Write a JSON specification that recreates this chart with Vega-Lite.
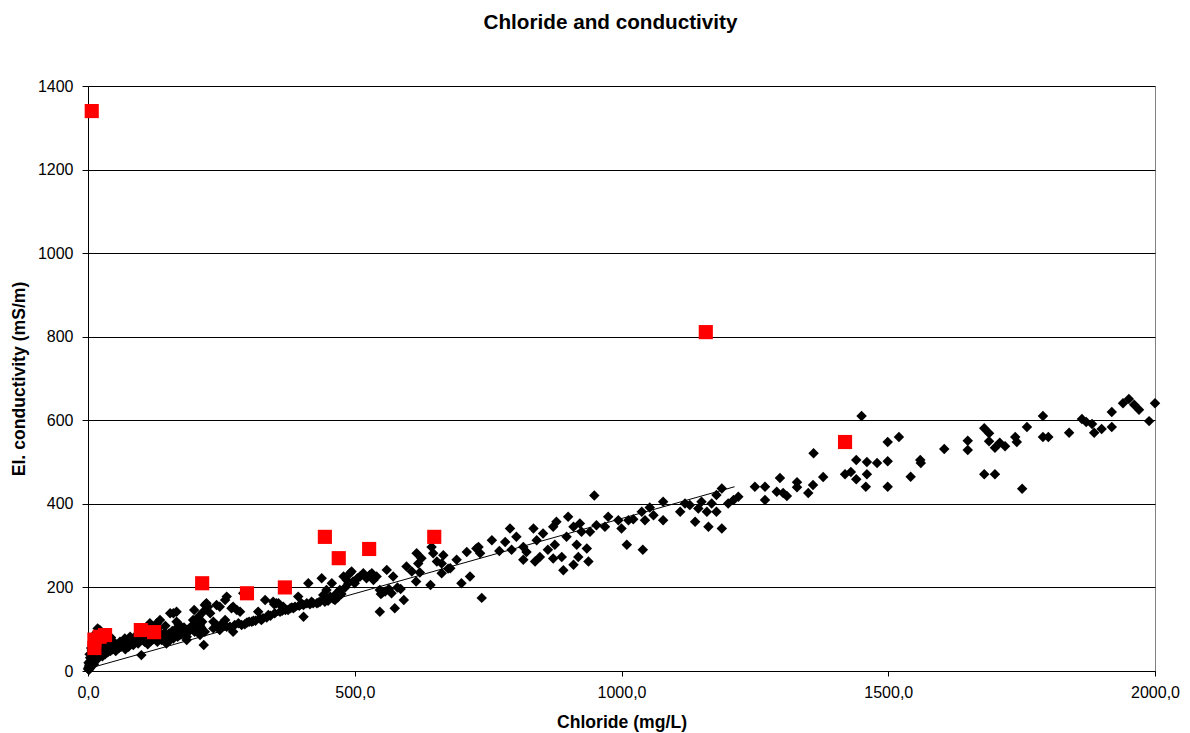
{
  "$schema": "https://vega.github.io/schema/vega-lite/v6.json",
  "width": 1067,
  "height": 585,
  "autosize": {"type": "none"},
  "padding": {"left": 88, "top": 86, "right": 35, "bottom": 62},
  "background": "white",
  "title": {
    "text": "Chloride and conductivity",
    "font": "Liberation Sans",
    "fontSize": 20.7,
    "fontWeight": "bold",
    "color": "black",
    "anchor": "middle",
    "frame": "group",
    "offset": 44,
    "dx": -11
  },
  "config": {
    "view": {"stroke": "#808080", "strokeWidth": 1},
    "axis": {
      "labelFont": "Liberation Sans",
      "labelFontSize": 16,
      "labelColor": "black",
      "labelFlush": false,
      "titleFont": "Liberation Sans",
      "titleFontSize": 17.6,
      "titleFontWeight": "bold",
      "titleColor": "black",
      "domainColor": "black",
      "tickColor": "black"
    }
  },
  "datasets": {
    "measured": [
      {"cl": 0, "ec": 5}, {"cl": 1, "ec": 8}, {"cl": 2, "ec": 3}, {"cl": 2, "ec": 12}, {"cl": 3, "ec": 15},
      {"cl": 3, "ec": 6}, {"cl": 4, "ec": 20}, {"cl": 5, "ec": 10}, {"cl": 5, "ec": 25}, {"cl": 6, "ec": 18},
      {"cl": 6, "ec": 30}, {"cl": 7, "ec": 14}, {"cl": 8, "ec": 35}, {"cl": 8, "ec": 22}, {"cl": 9, "ec": 40},
      {"cl": 10, "ec": 28}, {"cl": 10, "ec": 45}, {"cl": 11, "ec": 16}, {"cl": 12, "ec": 50}, {"cl": 12, "ec": 33},
      {"cl": 13, "ec": 60}, {"cl": 14, "ec": 38}, {"cl": 15, "ec": 25}, {"cl": 15, "ec": 70}, {"cl": 16, "ec": 44},
      {"cl": 17, "ec": 55}, {"cl": 18, "ec": 30}, {"cl": 18, "ec": 80}, {"cl": 18, "ec": 102}, {"cl": 19, "ec": 48},
      {"cl": 20, "ec": 65}, {"cl": 20, "ec": 95}, {"cl": 21, "ec": 38}, {"cl": 22, "ec": 52}, {"cl": 22, "ec": 98},
      {"cl": 24, "ec": 42}, {"cl": 24, "ec": 72}, {"cl": 25, "ec": 58}, {"cl": 26, "ec": 88}, {"cl": 27, "ec": 35},
      {"cl": 28, "ec": 64}, {"cl": 29, "ec": 48}, {"cl": 30, "ec": 78}, {"cl": 31, "ec": 55}, {"cl": 32, "ec": 40},
      {"cl": 33, "ec": 68}, {"cl": 34, "ec": 90}, {"cl": 35, "ec": 50}, {"cl": 36, "ec": 62}, {"cl": 37, "ec": 45},
      {"cl": 38, "ec": 74}, {"cl": 40, "ec": 55}, {"cl": 41, "ec": 66}, {"cl": 42, "ec": 48}, {"cl": 43, "ec": 80},
      {"cl": 45, "ec": 60}, {"cl": 46, "ec": 52}, {"cl": 48, "ec": 70}, {"cl": 50, "ec": 58},
      {"cl": 4, "ec": 32}, {"cl": 7, "ec": 50}, {"cl": 9, "ec": 62}, {"cl": 11, "ec": 72}, {"cl": 14, "ec": 84},
      {"cl": 16, "ec": 92}, {"cl": 23, "ec": 85}, {"cl": 27, "ec": 75}, {"cl": 30, "ec": 62}, {"cl": 35, "ec": 70},
      {"cl": 39, "ec": 60}, {"cl": 44, "ec": 68}, {"cl": 1, "ec": 20}, {"cl": 3, "ec": 40}, {"cl": 6, "ec": 55},
      {"cl": 52, "ec": 48}, {"cl": 55, "ec": 62}, {"cl": 58, "ec": 55}, {"cl": 60, "ec": 70}, {"cl": 62, "ec": 58},
      {"cl": 65, "ec": 66}, {"cl": 68, "ec": 60}, {"cl": 69, "ec": 78}, {"cl": 70, "ec": 52}, {"cl": 72, "ec": 68},
      {"cl": 75, "ec": 72}, {"cl": 76, "ec": 58}, {"cl": 79, "ec": 82}, {"cl": 80, "ec": 64}, {"cl": 82, "ec": 75},
      {"cl": 85, "ec": 62}, {"cl": 87, "ec": 78}, {"cl": 90, "ec": 70}, {"cl": 91, "ec": 86}, {"cl": 94, "ec": 66},
      {"cl": 96, "ec": 80}, {"cl": 100, "ec": 38}, {"cl": 100, "ec": 74}, {"cl": 103, "ec": 84}, {"cl": 106, "ec": 70},
      {"cl": 108, "ec": 78}, {"cl": 110, "ec": 88}, {"cl": 112, "ec": 64}, {"cl": 114, "ec": 80}, {"cl": 116, "ec": 114},
      {"cl": 118, "ec": 72}, {"cl": 120, "ec": 86}, {"cl": 122, "ec": 76}, {"cl": 125, "ec": 82}, {"cl": 127, "ec": 92},
      {"cl": 129, "ec": 114}, {"cl": 130, "ec": 70}, {"cl": 132, "ec": 80}, {"cl": 135, "ec": 122}, {"cl": 136, "ec": 88},
      {"cl": 138, "ec": 74}, {"cl": 140, "ec": 84}, {"cl": 142, "ec": 78}, {"cl": 144, "ec": 92}, {"cl": 147, "ec": 66},
      {"cl": 148, "ec": 86}, {"cl": 150, "ec": 80}, {"cl": 152, "ec": 90}, {"cl": 154, "ec": 74}, {"cl": 154, "ec": 138},
      {"cl": 156, "ec": 84}, {"cl": 158, "ec": 96}, {"cl": 160, "ec": 138}, {"cl": 160, "ec": 78}, {"cl": 162, "ec": 88},
      {"cl": 164, "ec": 100}, {"cl": 166, "ec": 142}, {"cl": 166, "ec": 118}, {"cl": 168, "ec": 82}, {"cl": 170, "ec": 92},
      {"cl": 172, "ec": 86}, {"cl": 174, "ec": 98}, {"cl": 176, "ec": 88}, {"cl": 178, "ec": 94}, {"cl": 179, "ec": 90},
      {"cl": 180, "ec": 104}, {"cl": 182, "ec": 92}, {"cl": 185, "ec": 82}, {"cl": 185, "ec": 74}, {"cl": 186, "ec": 98},
      {"cl": 188, "ec": 94}, {"cl": 190, "ec": 102}, {"cl": 191, "ec": 98}, {"cl": 193, "ec": 106}, {"cl": 195, "ec": 100},
      {"cl": 197, "ec": 122}, {"cl": 199, "ec": 146}, {"cl": 200, "ec": 94}, {"cl": 202, "ec": 108}, {"cl": 204, "ec": 98},
      {"cl": 207, "ec": 130}, {"cl": 208, "ec": 112}, {"cl": 210, "ec": 110}, {"cl": 210, "ec": 86}, {"cl": 212, "ec": 104},
      {"cl": 214, "ec": 118}, {"cl": 216, "ec": 142}, {"cl": 217, "ec": 62}, {"cl": 219, "ec": 158}, {"cl": 219, "ec": 94},
      {"cl": 105, "ec": 96}, {"cl": 118, "ec": 100}, {"cl": 133, "ec": 104}, {"cl": 145, "ec": 108}, {"cl": 170, "ec": 112},
      {"cl": 222, "ec": 162}, {"cl": 225, "ec": 154}, {"cl": 229, "ec": 138}, {"cl": 235, "ec": 118}, {"cl": 235, "ec": 102},
      {"cl": 241, "ec": 158}, {"cl": 241, "ec": 110}, {"cl": 247, "ec": 154}, {"cl": 247, "ec": 98}, {"cl": 250, "ec": 112},
      {"cl": 254, "ec": 108}, {"cl": 257, "ec": 122}, {"cl": 257, "ec": 170}, {"cl": 260, "ec": 178}, {"cl": 260, "ec": 106},
      {"cl": 266, "ec": 106}, {"cl": 269, "ec": 150}, {"cl": 272, "ec": 94}, {"cl": 272, "ec": 154}, {"cl": 275, "ec": 110},
      {"cl": 279, "ec": 146}, {"cl": 282, "ec": 114}, {"cl": 285, "ec": 142}, {"cl": 288, "ec": 110}, {"cl": 291, "ec": 186},
      {"cl": 294, "ec": 112}, {"cl": 298, "ec": 116}, {"cl": 302, "ec": 118}, {"cl": 307, "ec": 118}, {"cl": 310, "ec": 120},
      {"cl": 314, "ec": 120}, {"cl": 319, "ec": 142}, {"cl": 322, "ec": 126}, {"cl": 325, "ec": 122}, {"cl": 328, "ec": 126},
      {"cl": 332, "ec": 170}, {"cl": 335, "ec": 128}, {"cl": 338, "ec": 134}, {"cl": 342, "ec": 132}, {"cl": 347, "ec": 166},
      {"cl": 349, "ec": 160}, {"cl": 350, "ec": 138}, {"cl": 353, "ec": 162}, {"cl": 357, "ec": 162}, {"cl": 360, "ec": 142},
      {"cl": 364, "ec": 144}, {"cl": 366, "ec": 154}, {"cl": 370, "ec": 146}, {"cl": 375, "ec": 146}, {"cl": 379, "ec": 150},
      {"cl": 382, "ec": 152}, {"cl": 385, "ec": 150}, {"cl": 388, "ec": 154}, {"cl": 394, "ec": 178}, {"cl": 396, "ec": 156},
      {"cl": 400, "ec": 162}, {"cl": 404, "ec": 130}, {"cl": 404, "ec": 158}, {"cl": 410, "ec": 162}, {"cl": 413, "ec": 210},
      {"cl": 416, "ec": 160}, {"cl": 419, "ec": 166}, {"cl": 422, "ec": 162}, {"cl": 429, "ec": 162}, {"cl": 432, "ec": 164},
      {"cl": 435, "ec": 166}, {"cl": 438, "ec": 222}, {"cl": 441, "ec": 182}, {"cl": 444, "ec": 166}, {"cl": 447, "ec": 194},
      {"cl": 450, "ec": 168}, {"cl": 454, "ec": 178}, {"cl": 457, "ec": 210}, {"cl": 460, "ec": 172}, {"cl": 463, "ec": 170},
      {"cl": 466, "ec": 186}, {"cl": 468, "ec": 176}, {"cl": 472, "ec": 194}, {"cl": 475, "ec": 184}, {"cl": 479, "ec": 226},
      {"cl": 482, "ec": 200}, {"cl": 485, "ec": 218}, {"cl": 488, "ec": 210}, {"cl": 491, "ec": 234}, {"cl": 494, "ec": 238},
      {"cl": 497, "ec": 214}, {"cl": 500, "ec": 210}, {"cl": 505, "ec": 222}, {"cl": 510, "ec": 226}, {"cl": 516, "ec": 234},
      {"cl": 522, "ec": 222}, {"cl": 528, "ec": 230}, {"cl": 532, "ec": 234}, {"cl": 535, "ec": 218}, {"cl": 541, "ec": 226},
      {"cl": 547, "ec": 194}, {"cl": 549, "ec": 184}, {"cl": 547, "ec": 142}, {"cl": 552, "ec": 188}, {"cl": 557, "ec": 190},
      {"cl": 560, "ec": 242}, {"cl": 564, "ec": 196}, {"cl": 569, "ec": 186}, {"cl": 572, "ec": 226}, {"cl": 575, "ec": 150},
      {"cl": 580, "ec": 200}, {"cl": 586, "ec": 196}, {"cl": 592, "ec": 170},
      {"cl": 597, "ec": 250}, {"cl": 607, "ec": 238}, {"cl": 615, "ec": 214}, {"cl": 616, "ec": 282}, {"cl": 619, "ec": 257},
      {"cl": 622, "ec": 236}, {"cl": 625, "ec": 270}, {"cl": 642, "ec": 206}, {"cl": 644, "ec": 297}, {"cl": 647, "ec": 282},
      {"cl": 654, "ec": 262}, {"cl": 663, "ec": 234}, {"cl": 663, "ec": 257}, {"cl": 666, "ec": 277}, {"cl": 675, "ec": 245},
      {"cl": 679, "ec": 246}, {"cl": 691, "ec": 266}, {"cl": 700, "ec": 210}, {"cl": 710, "ec": 285}, {"cl": 716, "ec": 226},
      {"cl": 728, "ec": 293}, {"cl": 732, "ec": 297}, {"cl": 735, "ec": 282}, {"cl": 738, "ec": 175}, {"cl": 757, "ec": 313},
      {"cl": 771, "ec": 287}, {"cl": 782, "ec": 309}, {"cl": 791, "ec": 341}, {"cl": 794, "ec": 290}, {"cl": 803, "ec": 321},
      {"cl": 816, "ec": 297}, {"cl": 816, "ec": 266}, {"cl": 822, "ec": 285}, {"cl": 835, "ec": 341}, {"cl": 838, "ec": 262},
      {"cl": 841, "ec": 313}, {"cl": 847, "ec": 273}, {"cl": 853, "ec": 329}, {"cl": 862, "ec": 290}, {"cl": 872, "ec": 345},
      {"cl": 872, "ec": 269}, {"cl": 875, "ec": 302}, {"cl": 878, "ec": 357}, {"cl": 888, "ec": 273}, {"cl": 891, "ec": 241},
      {"cl": 897, "ec": 321}, {"cl": 900, "ec": 369}, {"cl": 910, "ec": 345}, {"cl": 910, "ec": 254}, {"cl": 916, "ec": 302},
      {"cl": 919, "ec": 273}, {"cl": 922, "ec": 353}, {"cl": 925, "ec": 333}, {"cl": 935, "ec": 293}, {"cl": 938, "ec": 262},
      {"cl": 941, "ec": 333}, {"cl": 949, "ec": 420}, {"cl": 953, "ec": 349}, {"cl": 969, "ec": 345}, {"cl": 975, "ec": 369},
      {"cl": 994, "ec": 361}, {"cl": 1000, "ec": 341}, {"cl": 1010, "ec": 302}, {"cl": 1013, "ec": 361}, {"cl": 1022, "ec": 363},
      {"cl": 1038, "ec": 381}, {"cl": 1040, "ec": 290}, {"cl": 1044, "ec": 361}, {"cl": 1053, "ec": 391}, {"cl": 1060, "ec": 373},
      {"cl": 1078, "ec": 405}, {"cl": 1078, "ec": 361}, {"cl": 1110, "ec": 381}, {"cl": 1119, "ec": 401}, {"cl": 1128, "ec": 397},
      {"cl": 1138, "ec": 357}, {"cl": 1144, "ec": 389}, {"cl": 1150, "ec": 405}, {"cl": 1160, "ec": 381}, {"cl": 1163, "ec": 345},
      {"cl": 1169, "ec": 401}, {"cl": 1178, "ec": 381}, {"cl": 1188, "ec": 341}, {"cl": 1178, "ec": 421}, {"cl": 1188, "ec": 437},
      {"cl": 1200, "ec": 401}, {"cl": 1210, "ec": 409}, {"cl": 1219, "ec": 417}, {"cl": 1250, "ec": 441}, {"cl": 1269, "ec": 441},
      {"cl": 1269, "ec": 409}, {"cl": 1291, "ec": 429},
      {"cl": 1297, "ec": 462}, {"cl": 1303, "ec": 426}, {"cl": 1310, "ec": 419}, {"cl": 1329, "ec": 452}, {"cl": 1329, "ec": 440},
      {"cl": 1350, "ec": 426}, {"cl": 1359, "ec": 445}, {"cl": 1360, "ec": 521}, {"cl": 1378, "ec": 464}, {"cl": 1419, "ec": 471},
      {"cl": 1430, "ec": 476}, {"cl": 1440, "ec": 505}, {"cl": 1440, "ec": 459}, {"cl": 1450, "ec": 610}, {"cl": 1460, "ec": 500},
      {"cl": 1460, "ec": 471}, {"cl": 1458, "ec": 441}, {"cl": 1479, "ec": 498}, {"cl": 1499, "ec": 502}, {"cl": 1499, "ec": 548},
      {"cl": 1499, "ec": 441}, {"cl": 1520, "ec": 560}, {"cl": 1542, "ec": 465}, {"cl": 1560, "ec": 505}, {"cl": 1561, "ec": 498},
      {"cl": 1605, "ec": 531}, {"cl": 1649, "ec": 551}, {"cl": 1649, "ec": 529}, {"cl": 1680, "ec": 581}, {"cl": 1689, "ec": 569},
      {"cl": 1689, "ec": 550}, {"cl": 1700, "ec": 534}, {"cl": 1709, "ec": 546}, {"cl": 1719, "ec": 538}, {"cl": 1680, "ec": 471},
      {"cl": 1700, "ec": 471}, {"cl": 1751, "ec": 436}, {"cl": 1738, "ec": 560}, {"cl": 1741, "ec": 548}, {"cl": 1760, "ec": 584},
      {"cl": 1790, "ec": 610}, {"cl": 1790, "ec": 560}, {"cl": 1800, "ec": 560}, {"cl": 1839, "ec": 570}, {"cl": 1863, "ec": 603},
      {"cl": 1871, "ec": 596}, {"cl": 1882, "ec": 591}, {"cl": 1886, "ec": 570}, {"cl": 1900, "ec": 579}, {"cl": 1919, "ec": 620},
      {"cl": 1919, "ec": 584}, {"cl": 1940, "ec": 641}, {"cl": 1951, "ec": 651}, {"cl": 1961, "ec": 637}, {"cl": 1970, "ec": 625},
      {"cl": 1989, "ec": 598}, {"cl": 2000, "ec": 641}
    ],
    "outliers": [
      {"cl": 7, "ec": 1340}, {"cl": 1158, "ec": 811}, {"cl": 1419, "ec": 548}, {"cl": 444, "ec": 321},
      {"cl": 470, "ec": 270}, {"cl": 527, "ec": 292}, {"cl": 649, "ec": 321}, {"cl": 214, "ec": 210},
      {"cl": 298, "ec": 186}, {"cl": 369, "ec": 200}, {"cl": 99, "ec": 98}, {"cl": 124, "ec": 93},
      {"cl": 12, "ec": 75}, {"cl": 22, "ec": 82}, {"cl": 32, "ec": 86}, {"cl": 12, "ec": 55}
    ],
    "trend": [
      {"cl": 1, "ec": 6}, {"cl": 1212, "ec": 441}
    ]
  },
  "encoding": {
    "x": {
      "field": "cl",
      "type": "quantitative",
      "title": "Chloride (mg/L)",
      "scale": {"domain": [0, 2000], "nice": false, "zero": true},
      "axis": {
        "values": [0, 500, 1000, 1500, 2000],
        "labelExpr": "replace(format(datum.value, '.1f'), '.', ',')",
        "grid": false,
        "tickSize": 5,
        "labelPadding": 8,
        "titlePadding": 13
      }
    },
    "y": {
      "field": "ec",
      "type": "quantitative",
      "title": "El. conductivity (mS/m)",
      "scale": {"domain": [0, 1400], "nice": false},
      "axis": {
        "values": [0, 200, 400, 600, 800, 1000, 1200, 1400],
        "format": "d",
        "grid": true,
        "gridColor": "black",
        "gridOpacity": 1,
        "gridWidth": 1,
        "tickSize": 6,
        "labelPadding": 9,
        "titlePadding": 9
      }
    }
  },
  "layer": [
    {
      "data": {"name": "measured"},
      "mark": {"type": "point", "shape": "diamond", "filled": true, "size": 110, "color": "black", "opacity": 1, "strokeWidth": 0}
    },
    {
      "data": {"name": "trend"},
      "mark": {"type": "line", "color": "black", "strokeWidth": 1}
    },
    {
      "data": {"name": "outliers"},
      "mark": {"type": "point", "shape": "square", "filled": true, "size": 200, "color": "#ff0000", "opacity": 1, "strokeWidth": 0}
    }
  ]
}
